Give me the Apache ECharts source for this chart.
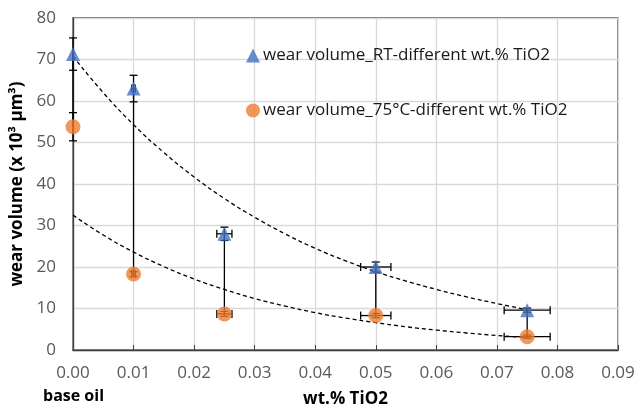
<!DOCTYPE html>
<html><head><meta charset="utf-8">
<script src="https://cdn.jsdelivr.net/npm/echarts@6/dist/echarts.min.js"></script>
<style>html,body{margin:0;padding:0;background:#fff}#c{width:634px;height:408px}</style>
</head><body><div id="c"></div>
<script>
// wt.% TiO2 (x values)
const xVals = [0, 0.01, 0.025, 0.05, 0.075];
// wear volume (x10^3 µm^3)
const rtVals = [71.3, 63.0, 28.0, 20.0, 9.6];
const hotVals = [53.8, 18.3, 8.7, 8.3, 3.2];
// vertical error (half range) read from caps
const rtYErr = [3.9, 3.2, 1.6, 1.2, 0.5];
const hotYErr = [3.4, 0.6, 0.6, 0.5, 0.4];
// horizontal error (half range)
const xErr = [0, 0.0003, 0.00125, 0.0025, 0.0038];
// dashed trend lines
const trendX = [0, 0.005, 0.01, 0.015, 0.02, 0.025, 0.03, 0.035, 0.04, 0.045, 0.05, 0.055, 0.06, 0.065, 0.07, 0.075];
const trendRT = [70.8, 62.0, 54.3, 47.6, 41.7, 36.5, 32.0, 28.0, 24.5, 21.5, 18.9, 16.6, 14.6, 12.8, 11.2, 9.7];
const trendHot = [32.5, 27.7, 23.6, 20.1, 17.1, 14.6, 12.4, 10.6, 9.0, 7.7, 6.6, 5.6, 4.8, 4.1, 3.5, 3.0];
const xTicks = ['0.00','0.01','0.02','0.03','0.04','0.05','0.06','0.07','0.08','0.09'];
const seriesNames = ['wear volume_RT-different wt.% TiO2', 'wear volume_75°C-different wt.% TiO2'];

const FONT = '"Open Sans", "Noto Sans", sans-serif';
const chart = echarts.init(document.getElementById('c'));

function errData(yv, ye) {
  return xVals.map((x, i) => [x, yv[i], x - xErr[i], x + xErr[i], yv[i] - ye[i], yv[i] + ye[i]]);
}
function renderErr(params, api) {
  const x = api.value(0), y = api.value(1);
  const xl = api.value(2), xh = api.value(3), yl = api.value(4), yh = api.value(5);
  const c = api.coord([x, y]);
  const pl = api.coord([x, yl]), ph = api.coord([x, yh]);
  const pxl = api.coord([xl, y]), pxh = api.coord([xh, y]);
  const st = {stroke: '#000', lineWidth: 1.3};
  const cap = 4;
  const ch = [
    {type: 'line', shape: {x1: c[0], y1: pl[1], x2: c[0], y2: ph[1]}, style: st},
    {type: 'line', shape: {x1: c[0] - cap, y1: pl[1], x2: c[0] + cap, y2: pl[1]}, style: st},
    {type: 'line', shape: {x1: c[0] - cap, y1: ph[1], x2: c[0] + cap, y2: ph[1]}, style: st}
  ];
  if (xh > xl) {
    ch.push({type: 'line', shape: {x1: pxl[0], y1: c[1], x2: pxh[0], y2: c[1]}, style: st});
    ch.push({type: 'line', shape: {x1: pxl[0], y1: c[1] - cap, x2: pxl[0], y2: c[1] + cap}, style: st});
    ch.push({type: 'line', shape: {x1: pxh[0], y1: c[1] - cap, x2: pxh[0], y2: c[1] + cap}, style: st});
  }
  return {type: 'group', children: ch};
}

chart.setOption({
  animation: false,
  grid: {left: 73, right: 16, top: 18, bottom: 58, show: true, borderColor: '#404040', borderWidth: 1.3,
    containLabel: false, outerBoundsMode: 'none'},
  legend: {
    orient: 'vertical', left: 241, top: 42, itemGap: 38, itemWidth: 14, itemHeight: 14,
    textStyle: {fontFamily: FONT, fontSize: 17, color: '#1a1a1a', padding: [0, 0, 0, -2]},
    data: [{name: seriesNames[0], icon: 'triangle'}, {name: seriesNames[1], icon: 'circle'}]
  },
  xAxis: {
    type: 'value', min: 0, max: 0.09, interval: 0.01,
    axisLine: {lineStyle: {color: '#404040', width: 1.3}},
    axisTick: {show: true, inside: true, length: 5, lineStyle: {color: '#404040'}},
    splitLine: {lineStyle: {color: '#d9d9d9', width: 1.3}},
    axisLabel: {fontFamily: FONT, fontSize: 17, color: '#595959', margin: 15,
      formatter: (v) => xTicks[Math.round(v * 100)]},
    name: 'wt.% TiO2', nameLocation: 'middle', nameGap: 41,
    nameTextStyle: {fontFamily: FONT, fontSize: 17, fontWeight: 'bold', color: '#000'}
  },
  yAxis: {
    type: 'value', min: 0, max: 80, interval: 10,
    axisLine: {show: true, lineStyle: {color: '#404040', width: 1.3}},
    axisTick: {show: false},
    splitLine: {lineStyle: {color: '#d9d9d9', width: 1.3}},
    axisLabel: {fontFamily: FONT, fontSize: 17, color: '#595959', margin: 17},
    name: 'wear volume (x 10³ µm³)', nameLocation: 'middle', nameGap: 39,
    nameTextStyle: {fontFamily: FONT, fontSize: 17, fontWeight: 'bold', color: '#000'}
  },
  graphic: [{type: 'text', left: 43, top: 388,
    style: {text: 'base oil', font: 'bold 16px ' + FONT, fill: '#000'}}],
  series: [
    {type: 'line', data: trendX.map((x, i) => [x, trendRT[i]]), smooth: true, showSymbol: false,
      lineStyle: {color: '#000', width: 1.3, type: [4, 3]}, z: 2, silent: true},
    {type: 'line', data: trendX.map((x, i) => [x, trendHot[i]]), smooth: true, showSymbol: false,
      lineStyle: {color: '#000', width: 1.3, type: [4, 3]}, z: 2, silent: true},
    {type: 'custom', z: 3, silent: true,
      data: xVals.map((x, i) => [x, rtVals[i], hotVals[i]]),
      encode: {x: 0, y: [1, 2]},
      renderItem: (p, api) => {
        const a = api.coord([api.value(0), api.value(1)]);
        const b = api.coord([api.value(0), api.value(2)]);
        return {type: 'line', shape: {x1: a[0], y1: a[1], x2: b[0], y2: b[1]}, style: {stroke: '#000', lineWidth: 1.3}};
      }},
    {type: 'custom', z: 3, silent: true, data: errData(rtVals, rtYErr), encode: {x: 0, y: 1}, renderItem: renderErr},
    {type: 'custom', z: 3, silent: true, data: errData(hotVals, hotYErr), encode: {x: 0, y: 1}, renderItem: renderErr},
    {name: seriesNames[0], type: 'scatter', symbol: 'triangle', symbolSize: 14, z: 5,
      itemStyle: {color: '#4472C4'}, data: xVals.map((x, i) => [x, rtVals[i]])},
    {name: seriesNames[1], type: 'scatter', symbol: 'circle', symbolSize: 15, z: 5,
      itemStyle: {color: '#ED7D31'}, data: xVals.map((x, i) => [x, hotVals[i]])}
  ]
});
</script></body></html>
